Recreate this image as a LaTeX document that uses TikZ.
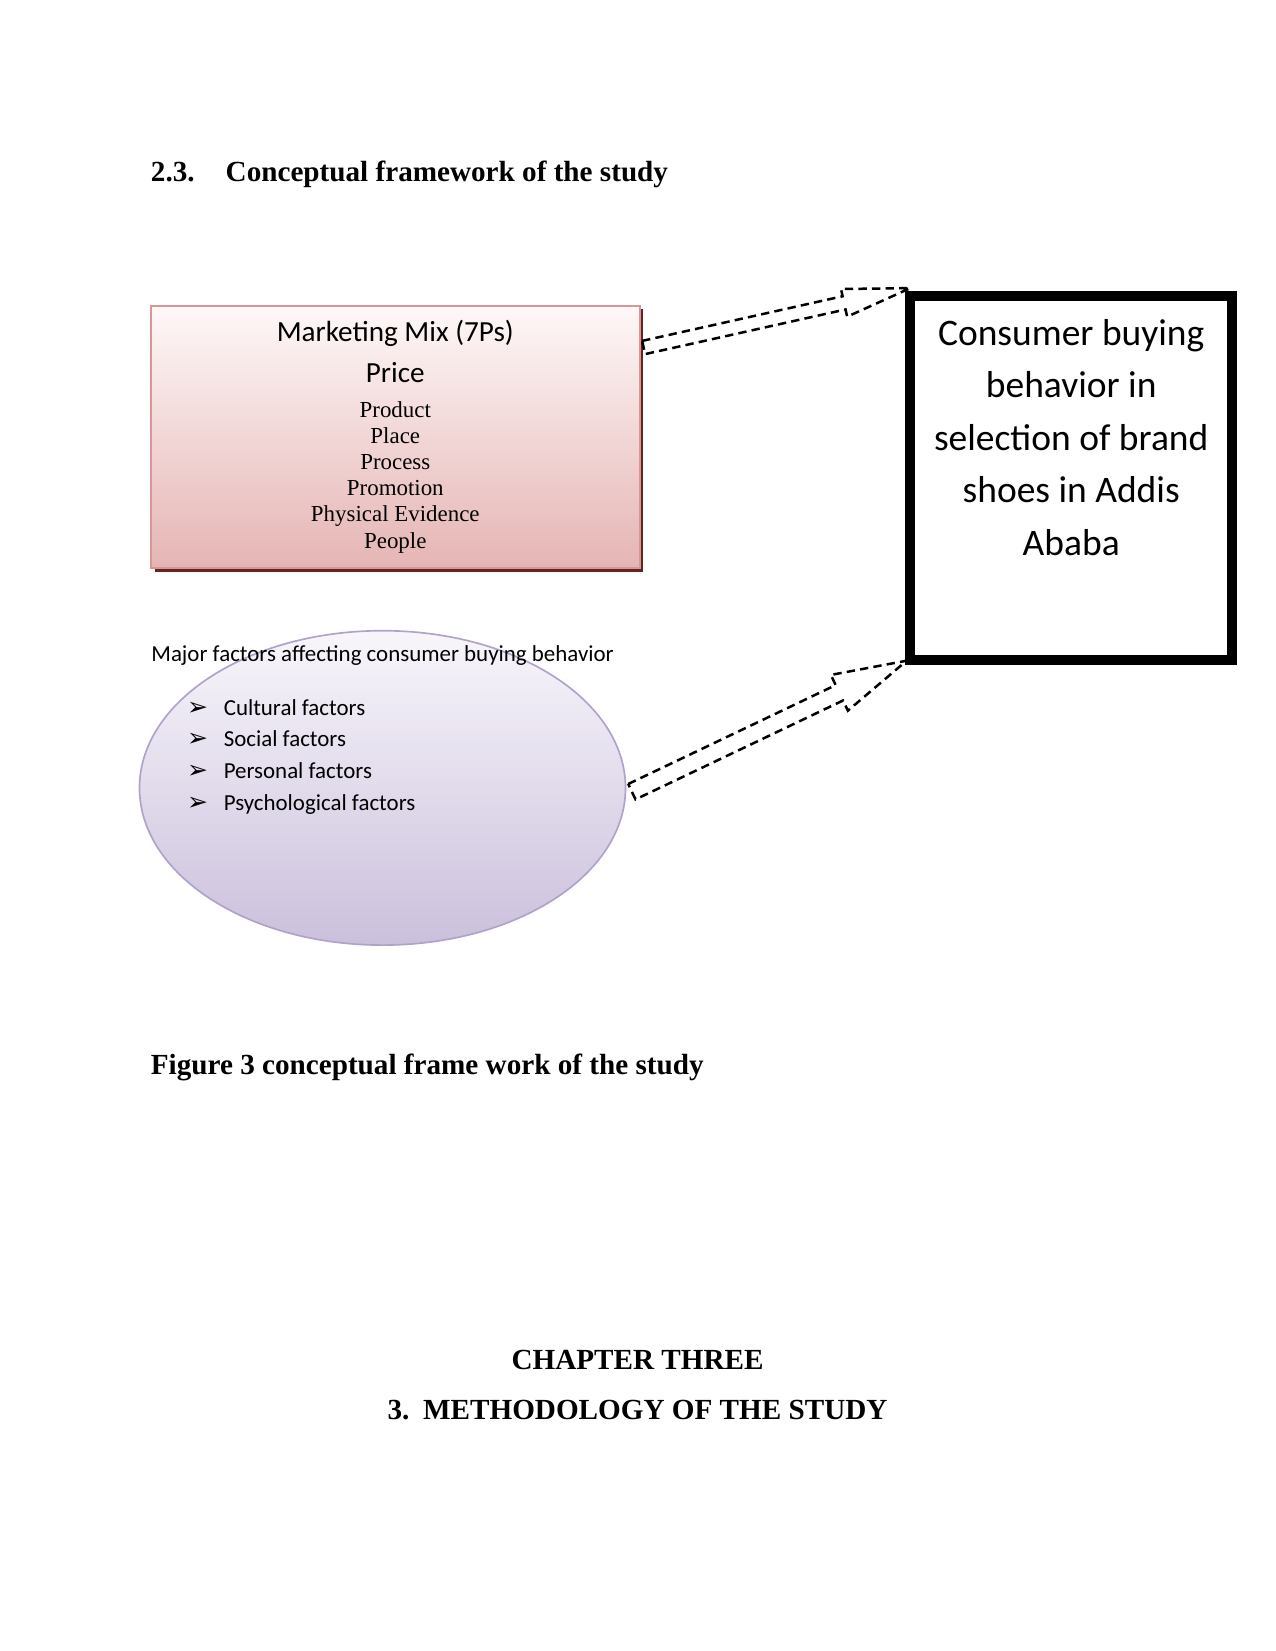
\documentclass[tikz,border=0pt]{standalone}
\usepackage{fontspec}
\setmainfont{Liberation Serif}
\newfontfamily\calibri{Carlito}
\newfontfamily\dingfont{DejaVu Sans}
\usepackage{tikz}
\usetikzlibrary{positioning,shapes,arrows,fit,calc,shadows}

\definecolor{mixborder}{RGB}{217,150,148}
\definecolor{mixshadow}{RGB}{99,37,35}
\definecolor{mixtop}{RGB}{254,248,248}
\definecolor{mixbottom}{RGB}{229,181,180}
\definecolor{factorborder}{RGB}{176,162,200}
\definecolor{factortop}{RGB}{248,246,251}
\definecolor{factorbottom}{RGB}{203,192,220}

\tikzset{
  headline/.style={font=\bfseries\fontsize{14}{16}\selectfont, inner sep=0pt},
  mixbox/.style={rectangle, draw=mixborder, line width=1pt, top color=mixtop, bottom color=mixbottom,
    minimum width=234.5pt, minimum height=126pt, inner sep=0pt,
    general shadow={fill=mixshadow, shadow xshift=1.8pt, shadow yshift=-1.8pt}},
  factorellipse/.style={ellipse, draw=factorborder, line width=0.8pt, top color=factortop, bottom color=factorbottom,
    minimum width=233.3pt, minimum height=150.9pt, inner sep=0pt},
  resultbox/.style={rectangle, draw=black, line width=4.8pt, minimum width=154.4pt, minimum height=175.1pt, inner sep=0pt},
  dasharrow/.style={draw=black, line width=1.2pt, dash pattern=on 4pt off 2.5pt, line join=miter},
}

% dashed block arrow: tail, tip, shaft half width, head half width, head length
\newcommand{\fatarrow}[5]{%
  \coordinate (hb) at ($(#2)!#5!(#1)$);
  \draw[dasharrow] ($(#1)!#3!90:(#2)$) -- ($(hb)!#3!90:(#2)$) -- ($(hb)!#4!90:(#2)$) -- (#2)
    -- ($(hb)!#4!-90:(#2)$) -- ($(hb)!#3!-90:(#2)$) -- ($(#1)!#3!-90:(#2)$) -- cycle;
}

\begin{document}
\begin{tikzpicture}[x=0.48pt, y=-0.48pt]
  \fill[white] (0,0) rectangle (1275,1651);
  \useasboundingbox (0,0) rectangle (1275,1651);

  \node[headline, anchor=base west] (heading) at (150.5,182) {2.3.\hspace{14.9pt}Conceptual framework of the study};

  % marketing mix
  \node[mixbox] (mix) at (395.3,436.8) {};
  \node[anchor=base, inner sep=0pt, font=\calibri\fontsize{14}{17}\selectfont] (mixtitle) at (395.3,341.5) {Marketing Mix (7Ps)};
  \node[anchor=base, inner sep=0pt, font=\calibri\fontsize{14}{17}\selectfont] (mixprice) at (395.3,382) {Price};
  % base of a multi-line node = its last line
  \node[anchor=base, inner sep=0pt, align=center, font=\fontsize{11}{12.55}\selectfont] (mixlist) at (395.3,548) {Product\\Place\\Process\\Promotion\\Physical Evidence\\People};

  % consumer behaviour
  \node[resultbox] (result) at (1071.2,478) {};
  \node[anchor=base, inner sep=0pt, align=center, font=\calibri\fontsize{18}{25.25}\selectfont] (resultlabel) at (1071.2,555.5) {Consumer buying\\behavior in\\selection of brand\\shoes in Addis\\Ababa};

  % major factors
  \node[factorellipse] (factors) at (382.5,787.9) {};
  \node[anchor=base west, inner sep=0pt, font=\calibri\fontsize{11}{13}\selectfont] (factortitle) at (151,661) {Major factors affecting consumer buying behavior};
  \node[anchor=base west, inner sep=0pt, align=left, font=\calibri\fontsize{11}{15.27}\selectfont] (factorlist) at (186.7,810.5) {%
    \makebox[17.6pt][l]{\dingfont\fontsize{12}{12}\selectfont ➢}Cultural factors\\
    \makebox[17.6pt][l]{\dingfont\fontsize{12}{12}\selectfont ➢}Social factors\\
    \makebox[17.6pt][l]{\dingfont\fontsize{12}{12}\selectfont ➢}Personal factors\\
    \makebox[17.6pt][l]{\dingfont\fontsize{12}{12}\selectfont ➢}Psychological factors};

  % arrows
  \coordinate (mixout) at ($(mix.north east)+(3,43)$);
  \coordinate (resultin) at ($(result.north west)+(5,-2.5)$);
  \fatarrow{mixout}{resultin}{3.25pt}{6.8pt}{32.6pt}
  \coordinate (factorout) at ($(factors.east)+(5.5,3.8)$);
  \coordinate (resultin2) at ($(result.south west)+(1.3,-4.7)$);
  \fatarrow{factorout}{resultin2}{4.1pt}{9.5pt}{35.8pt}

  \node[headline, anchor=base west] (caption) at (150.5,1074) {Figure 3 conceptual frame work of the study};

  \node[headline, anchor=base] (chapter) at (637.5,1369.5) {CHAPTER THREE};
  \node[headline, anchor=base] (method) at (637.5,1419.5) {3.\hspace{6.6pt}METHODOLOGY OF THE STUDY};
\end{tikzpicture}
\end{document}
